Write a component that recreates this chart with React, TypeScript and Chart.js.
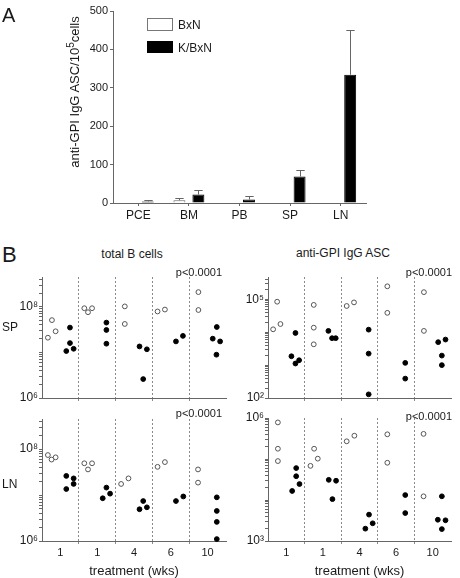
import React, { useEffect, useRef } from 'react';
import { Chart, registerables } from 'chart.js';

Chart.register(...registerables);

const FONT = '"Liberation Sans", Arial, Helvetica, sans-serif';
Chart.defaults.font.family = FONT;
Chart.defaults.color = '#1a1a1a';

// ---------- Panel A data ----------
const organs = ['PCE', 'BM', 'PB', 'SP', 'LN'];
const bxnMean = [0, 7, 1, 0, 1];
const bxnErr = [0, 6, 0, 0, 0];
const kbxnMean = [4, 22, 9, 69, 334];
const kbxnErr = [3, 11, 8, 16, 116];
const panelAMax = 500;
const panelAStep = 100;

// ---------- Panel B data ----------
const treatmentWeeks = ['1', '1', '4', '6', '10'];

// x = group position on the treatment axis (group index + within-group offset), y = value
const spTotalBxN = [
  [0.16, 2.1e7], [0.27, 5.1e7], [0.37, 2.9e7],
  [1.15, 9.3e7], [1.25, 7.6e7], [1.36, 9.3e7],
  [2.25, 1.02e8], [2.25, 4.2e7],
  [3.14, 7.9e7], [3.34, 8.7e7],
  [4.25, 2.1e8], [4.25, 8.5e7],
];
const spTotalKBxN = [
  [0.66, 1.07e7], [0.76, 3.5e7], [0.76, 1.6e7], [0.86, 1.2e7],
  [1.75, 4.5e7], [1.75, 3.1e7], [1.75, 1.55e7],
  [2.65, 1.35e7], [2.85, 1.17e7], [2.75, 2.6e6],
  [3.64, 1.74e7], [3.83, 2.3e7],
  [4.75, 3.6e7], [4.64, 2.0e7], [4.84, 1.74e7], [4.74, 8.9e6],
];
const spAscBxN = [
  [0.25, 8.5e4], [0.14, 1.23e4], [0.34, 1.78e4],
  [1.25, 6.8e4], [1.25, 1.38e4], [1.25, 4.3e3],
  [2.15, 6.3e4], [2.35, 8.1e4],
  [3.26, 2.5e5], [3.26, 3.9e4],
  [4.26, 1.66e5], [4.26, 1.1e4],
];
const spAscKBxN = [
  [0.75, 9.5e3], [0.64, 1.86e3], [0.75, 1.12e3], [0.85, 1.41e3],
  [1.65, 1.1e4], [1.75, 6.6e3], [1.85, 6.6e3],
  [2.75, 1.2e4], [2.75, 2.24e3], [2.75, 129],
  [3.75, 1.17e3], [3.75, 389],
  [4.65, 5.0e3], [4.85, 6.0e3], [4.75, 1.95e3], [4.75, 1.0e3],
];
const lnTotalBxN = [
  [0.16, 7.4e7], [0.26, 5.9e7], [0.37, 6.6e7],
  [1.15, 4.9e7], [1.25, 3.6e7], [1.36, 4.9e7],
  [2.15, 1.74e7], [2.35, 2.3e7],
  [3.14, 4.1e7], [3.34, 5.2e7],
  [4.24, 3.6e7], [4.24, 1.86e7],
];
const lnTotalKBxN = [
  [0.66, 2.6e7], [0.86, 2.3e7], [0.66, 1.35e7], [0.86, 1.74e7],
  [1.65, 8.5e6], [1.75, 1.45e7], [1.85, 1.07e7],
  [2.65, 4.9e6], [2.75, 7.4e6], [2.85, 5.4e6],
  [3.64, 7.4e6], [3.84, 9.3e6],
  [4.75, 8.9e6], [4.75, 4.5e6], [4.75, 2.6e6], [4.75, 1.1e6],
];
const lnAscBxN = [
  [0.27, 7.8e5], [0.27, 1.78e5], [0.27, 8.9e4],
  [1.16, 6.8e4], [1.26, 1.78e5], [1.36, 1.02e5],
  [2.15, 2.7e5], [2.36, 3.7e5],
  [3.26, 4.0e5], [3.26, 8.1e4],
  [4.25, 4.1e5], [4.25, 1.23e4],
];
const lnAscKBxN = [
  [0.77, 6.0e4], [0.77, 3.8e4], [0.66, 1.66e4], [0.86, 2.45e4],
  [1.66, 3.1e4], [1.76, 1.05e4], [1.86, 2.95e4],
  [2.76, 4.4e3], [2.66, 2.0e3], [2.86, 2.7e3],
  [3.75, 1.32e4], [3.75, 4.8e3],
  [4.75, 1.23e4], [4.64, 3.3e3], [4.85, 3.2e3], [4.75, 1.95e3],
];

// axis ranges and labelled decades
const totalRange = [1e6, 4.5e8];
const totalLabelExps = [6, 8];
const spAscRange = [1e2, 4.8e5];
const spAscLabelExps = [2, 5];
const lnAscRange = [1e3, 1e6];
const lnAscLabelExps = [3, 6];

// ---------- helpers ----------
const SUP = '⁰¹²³⁴⁵⁶⁷⁸⁹';
const supNum = (n: number) => String(n).split('').map((d) => SUP[+d]).join('');

function logTicks(min: number, max: number) {
  const out: { value: number }[] = [];
  for (let e = Math.floor(Math.log10(min)); e <= Math.ceil(Math.log10(max)); e++) {
    for (let m = 1; m <= 9; m++) {
      const v = m * Math.pow(10, e);
      if (v >= min * 0.9999 && v <= max * 1.0001) out.push({ value: v });
    }
  }
  return out;
}

type Frame = { left: number; top: number; width: number; height: number; mL: number; mT: number; mR: number; mB: number };
function frame(L: number, T: number, R: number, B: number, mL: number, mT: number, mR: number, mB: number): Frame {
  return { left: L - mL, top: T - mT, width: R - L + mL + mR, height: B - T + mT + mB, mL, mT, mR, mB };
}

const fixWidth = (w: number) => (s: any) => {
  s.width = w;
  s.paddingTop = 0; s.paddingBottom = 0; s.paddingLeft = 0; s.paddingRight = 0;
};
const fixHeight = (h: number) => (s: any) => {
  s.height = h;
  s.paddingTop = 0; s.paddingBottom = 0; s.paddingLeft = 0; s.paddingRight = 0;
};

const AXIS = '#666';

const errorBarPlugin = {
  id: 'errorBars',
  afterDatasetsDraw(chart: any, _args: any, opts: any) {
    const ctx = chart.ctx;
    const y = chart.scales.y;
    const errs = opts.errors || [];
    chart.data.datasets.forEach((ds: any, di: number) => {
      const meta = chart.getDatasetMeta(di);
      const e = errs[di] || [];
      meta.data.forEach((bar: any, i: number) => {
        const err = e[i];
        if (!err) return;
        const base = y.getPixelForValue(ds.data[i]);
        const top = y.getPixelForValue(ds.data[i] + err);
        const x = Math.round(bar.x) + 0.5;
        const half = bar.width * 0.35;
        ctx.save();
        ctx.strokeStyle = opts.color || '#666';
        ctx.lineWidth = 1;
        ctx.beginPath();
        ctx.moveTo(x, base);
        ctx.lineTo(x, Math.round(top) + 0.5);
        ctx.moveTo(x - half, Math.round(top) + 0.5);
        ctx.lineTo(x + half, Math.round(top) + 0.5);
        ctx.stroke();
        ctx.restore();
      });
    });
  },
};

function ChartBox({ f, build }: { f: Frame; build: (f: Frame) => any }) {
  const ref = useRef<HTMLCanvasElement | null>(null);
  useEffect(() => {
    const chart = new Chart(ref.current as HTMLCanvasElement, build(f));
    return () => chart.destroy();
  }, []);
  return (
    <canvas
      ref={ref}
      width={f.width}
      height={f.height}
      style={{ position: 'absolute', left: f.left, top: f.top, width: f.width, height: f.height }}
    />
  );
}

// ---------- Panel A ----------
const frameA = frame(113, 11, 366, 203, 53, 11, 10, 25);
const buildA = (f: Frame) => ({
  type: 'bar',
  data: {
    labels: organs,
    datasets: [
      { label: 'BxN', data: bxnMean, backgroundColor: '#fff', borderColor: '#666', borderWidth: 1 },
      { label: 'K/BxN', data: kbxnMean, backgroundColor: '#000', borderColor: '#000', borderWidth: 1 },
    ],
  },
  options: {
    animation: false,
    responsive: false,
    devicePixelRatio: 1,
    layout: { padding: { top: f.mT, right: f.mR, left: 0, bottom: 0 } },
    datasets: { bar: { categoryPercentage: 0.75, barPercentage: 0.63 } },
    plugins: {
      legend: { display: false },
      tooltip: { enabled: false },
      errorBars: { errors: [bxnErr, kbxnErr], color: '#666' },
    },
    scales: {
      x: {
        grid: { display: true, drawOnChartArea: false, offset: false, tickLength: 3, color: AXIS },
        border: { color: AXIS },
        ticks: { font: { size: 12 }, padding: 2, color: '#1a1a1a' },
        afterFit: fixHeight(f.mB),
      },
      y: {
        min: 0,
        max: panelAMax,
        grid: { drawOnChartArea: false, tickLength: 3, color: AXIS },
        border: { color: AXIS },
        ticks: { stepSize: panelAStep, font: { size: 11 }, padding: 2, color: '#1a1a1a' },
        afterFit: fixWidth(f.mL),
      },
    },
  },
  plugins: [errorBarPlugin],
});

// ---------- Panel B ----------
type DotPanel = {
  f: Frame;
  open: number[][];
  filled: number[][];
  range: number[];
  labelExps: number[];
  showX: boolean;
};

const buildDots = (p: DotPanel) => (f: Frame) => ({
  type: 'scatter',
  data: {
    datasets: [
      {
        data: p.open.map(([x, y]) => ({ x, y })),
        pointRadius: 2.4,
        pointBorderWidth: 1,
        pointBackgroundColor: '#fff',
        pointBorderColor: '#555',
        clip: false,
      },
      {
        data: p.filled.map(([x, y]) => ({ x, y })),
        pointRadius: 2.4,
        pointBorderWidth: 1,
        pointBackgroundColor: '#000',
        pointBorderColor: '#000',
        clip: false,
      },
    ],
  },
  options: {
    animation: false,
    responsive: false,
    devicePixelRatio: 1,
    layout: { padding: { top: f.mT, right: f.mR, left: 0, bottom: 0 } },
    plugins: { legend: { display: false }, tooltip: { enabled: false } },
    scales: {
      x: {
        type: 'linear',
        min: 0,
        max: treatmentWeeks.length,
        afterBuildTicks: (s: any) => {
          const t: { value: number }[] = [];
          for (let v = 0.5; v < treatmentWeeks.length; v += 0.5) t.push({ value: v });
          s.ticks = t;
        },
        grid: {
          display: true,
          drawOnChartArea: true,
          drawTicks: true,
          tickLength: 3,
          lineWidth: 1,
          color: (c: any) => (c.tick && Number.isInteger(c.tick.value) ? '#8a8a8a' : 'rgba(0,0,0,0)'),
        },
        border: { color: AXIS, dash: [2, 2] },
        ticks: {
          display: p.showX,
          autoSkip: false,
          maxRotation: 0,
          font: { size: 11 },
          padding: 2,
          color: '#1a1a1a',
          callback: (v: number) => {
            const i = v - 0.5;
            return Number.isInteger(i) ? treatmentWeeks[i] : '';
          },
        },
        title: {
          display: p.showX,
          text: 'treatment (wks)',
          font: { size: 13, lineHeight: 1 },
          padding: { top: 0, bottom: 0 },
          color: '#1a1a1a',
        },
        afterFit: fixHeight(f.mB),
      },
      y: {
        type: 'logarithmic',
        min: p.range[0],
        max: p.range[1],
        afterBuildTicks: (s: any) => {
          s.ticks = logTicks(p.range[0], p.range[1]);
        },
        grid: { drawOnChartArea: false, tickLength: 3, color: AXIS },
        border: { color: AXIS },
        ticks: {
          autoSkip: false,
          font: { size: 12 },
          padding: 1,
          color: '#1a1a1a',
          callback: (v: number) => {
            const e = Math.log10(v);
            const r = Math.round(e);
            return Math.abs(e - r) < 1e-6 && p.labelExps.includes(r) ? '10' + supNum(r) : '';
          },
        },
        afterFit: fixWidth(f.mL),
      },
    },
  },
});

const panelTL: DotPanel = {
  f: frame(42, 277, 227, 398, 42, 7, 4, 12),
  open: spTotalBxN, filled: spTotalKBxN, range: totalRange, labelExps: totalLabelExps, showX: false,
};
const panelTR: DotPanel = {
  f: frame(268, 277, 452, 398, 40, 7, 4, 12),
  open: spAscBxN, filled: spAscKBxN, range: spAscRange, labelExps: spAscLabelExps, showX: false,
};
const panelBL: DotPanel = {
  f: frame(42, 419, 227, 541, 42, 7, 4, 37),
  open: lnTotalBxN, filled: lnTotalKBxN, range: totalRange, labelExps: totalLabelExps, showX: true,
};
const panelBR: DotPanel = {
  f: frame(268, 418, 452, 541, 40, 7, 4, 37),
  open: lnAscBxN, filled: lnAscKBxN, range: lnAscRange, labelExps: lnAscLabelExps, showX: true,
};

// text placed by baseline (line-height = font size)
function Txt({ x, base, size, children, align = 'left', width = 200, extra = {} }: any) {
  const top = base - 0.8465 * size;
  let left = x;
  if (align === 'center') left = x - width / 2;
  if (align === 'right') left = x - width;
  return (
    <div
      style={{
        position: 'absolute',
        left,
        top,
        width,
        fontSize: size,
        lineHeight: `${size}px`,
        fontFamily: FONT,
        color: '#1a1a1a',
        textAlign: align,
        whiteSpace: 'nowrap',
        ...extra,
      }}
    >
      {children}
    </div>
  );
}

export default function App() {
  return (
    <div style={{ position: 'absolute', left: 0, top: 0, width: 460, height: 578, background: '#fff', overflow: 'hidden' }}>
      <ChartBox f={frameA} build={buildA} />
      {[panelTL, panelTR, panelBL, panelBR].map((p, i) => (
        <ChartBox key={i} f={p.f} build={buildDots(p)} />
      ))}

      {/* Panel A labels */}
      <Txt x={2} base={21.7} size={20}>A</Txt>
      <div
        style={{
          position: 'absolute',
          left: 75 - 100,
          top: 92 - 7,
          width: 200,
          height: 14,
          lineHeight: '14px',
          fontSize: 13,
          fontFamily: FONT,
          color: '#1a1a1a',
          textAlign: 'center',
          whiteSpace: 'nowrap',
          transform: 'rotate(-90deg)',
          transformOrigin: '100px 7px',
        }}
      >
        anti-GPI IgG ASC/10<sup style={{ fontSize: 10, lineHeight: 0 }}>5</sup>cells
      </div>
      <div style={{ position: 'absolute', left: 147, top: 18, width: 26, height: 13, boxSizing: 'border-box', border: '1px solid #777', background: '#fff' }} />
      <div style={{ position: 'absolute', left: 147, top: 41, width: 26, height: 12, background: '#000' }} />
      <Txt x={178} base={29.3} size={12}>BxN</Txt>
      <Txt x={178} base={51.7} size={12}>K/BxN</Txt>

      {/* Panel B labels */}
      <Txt x={2} base={262.3} size={22}>B</Txt>
      <Txt x={132} base={258.3} size={12} align="center">total B cells</Txt>
      <Txt x={343} base={257.3} size={12} align="center">anti-GPI IgG ASC</Txt>
      <Txt x={2} base={331} size={12}>SP</Txt>
      <Txt x={2} base={488.3} size={12}>LN</Txt>
      <Txt x={222} base={276.7} size={11} align="right">p&lt;0.0001</Txt>
      <Txt x={452} base={276.7} size={11} align="right">p&lt;0.0001</Txt>
      <Txt x={222} base={417.3} size={11} align="right">p&lt;0.0001</Txt>
      <Txt x={452} base={420.7} size={11} align="right">p&lt;0.0001</Txt>
    </div>
  );
}
